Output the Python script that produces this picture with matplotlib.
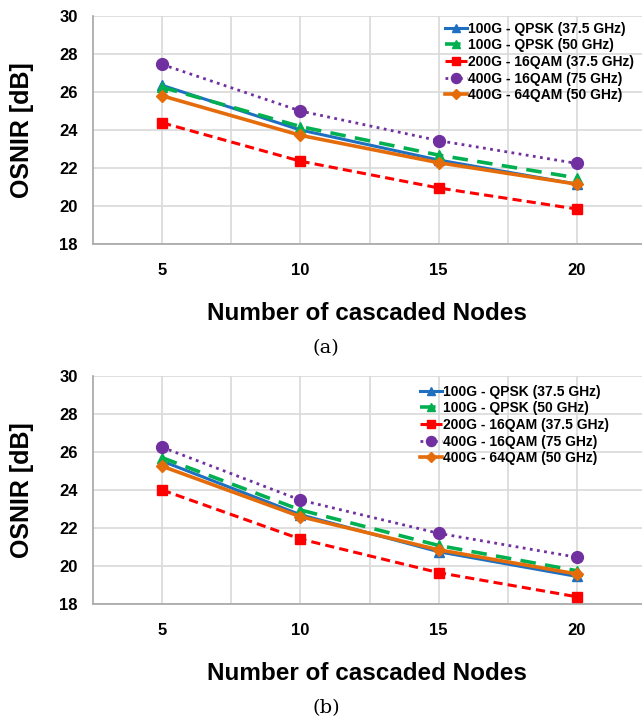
import matplotlib
matplotlib.use("Agg")
import matplotlib.pyplot as plt
from matplotlib.ticker import FixedLocator

plt.rcParams['font.family'] = ['Liberation Sans', 'DejaVu Sans']
plt.rcParams['font.weight'] = 'bold'

nodes = [5, 10, 15, 20]
labels = ["100G - QPSK (37.5 GHz)", "100G - QPSK (50 GHz)", "200G - 16QAM (37.5 GHz)",
          "400G - 16QAM (75 GHz)", "400G - 64QAM (50 GHz)"]

# panel (a)
a_qpsk375 = [26.35, 24.0, 22.42, 21.15]
a_qpsk50 = [26.25, 24.18, 22.68, 21.48]
a_16qam375 = [24.38, 22.36, 20.95, 19.84]
a_16qam75 = [27.45, 25.0, 23.44, 22.24]
a_64qam50 = [25.8, 23.72, 22.28, 21.15]

# panel (b)
b_qpsk375 = [25.52, 22.7, 20.75, 19.45]
b_qpsk50 = [25.7, 22.95, 21.08, 19.75]
b_16qam375 = [24.0, 21.42, 19.65, 18.38]
b_16qam75 = [26.25, 23.47, 21.72, 20.46]
b_64qam50 = [25.25, 22.6, 20.85, 19.58]

styles = [
    dict(color='#1F6FC0', lw=2.2, ls='-', marker='^', ms=7.5),
    dict(color='#00B050', lw=2.6, ls=(0, (4.3, 2.6)), marker='^', ms=7.5),
    dict(color='#FF0000', lw=2.2, ls=(0, (3.0, 1.7)), marker='s', ms=7.5),
    dict(color='#7030A0', lw=2.0, ls=(0, (1, 1.6)), marker='o', ms=8.5),
    dict(color='#E46C0A', lw=2.6, ls='-', marker='D', ms=6.5),
]

W, H = 642, 722
fig = plt.figure(figsize=(W / 100, H / 100), dpi=100)


def make_panel(top_px, series, leg_x, leg_y, caption):
    left, right = 93, 646
    height = 228
    width = right - left
    ax = fig.add_axes([left / W, (H - top_px - height) / H, width / W, height / H])
    for vals, st, lab in zip(series, styles, labels):
        ax.plot(nodes, vals, label=lab, color=st['color'], lw=st['lw'], ls=st['ls'],
                marker=st['marker'], ms=st['ms'], markeredgecolor=st['color'],
                markerfacecolor=st['color'], zorder=3)
    ax.set_xlim(2.5, 22.5)
    ax.set_ylim(18, 30)
    ax.xaxis.set_major_locator(FixedLocator(nodes))
    ax.xaxis.set_minor_locator(FixedLocator([7.5, 12.5, 17.5]))
    ax.set_yticks([18, 20, 22, 24, 26, 28, 30])
    ax.grid(True, which='both', color='#D9D9D9', lw=1.2, zorder=0)
    ax.set_axisbelow(True)
    ax.tick_params(axis='both', which='both', length=0)
    ax.tick_params(axis='x', pad=14, labelsize=12)
    ax.tick_params(axis='y', pad=11, labelsize=12)
    for t in ax.get_xticklabels() + ax.get_yticklabels():
        t.set_fontweight('bold')
    for s in ['top', 'right']:
        ax.spines[s].set_visible(False)
    for s in ['left', 'bottom']:
        ax.spines[s].set_color('#A6A6A6')
        ax.spines[s].set_linewidth(1.2)
    ax.set_xlabel('Number of cascaded Nodes', fontsize=17.5, fontweight='bold')
    ax.set_ylabel('OSNIR [dB]', fontsize=18, fontweight='bold')
    ax.xaxis.set_label_coords((367 - left) / width, -58 / height)
    ax.yaxis.set_label_coords(-(93 - 34) / width, 0.5)
    ax.legend(loc='upper left', bbox_to_anchor=(leg_x, leg_y), frameon=False,
              prop=dict(size=10, weight='bold'), handlelength=1.6, handletextpad=0.1,
              labelspacing=0.19, borderpad=0, borderaxespad=0, numpoints=1,
              markerscale=0.85)
    fig.text(326 / W, 1 - (348 + (top_px - 16)) / H, caption, ha='center', va='center',
             fontsize=14, family='DejaVu Serif', fontweight='normal')
    return ax


make_panel(16, [a_qpsk375, a_qpsk50, a_16qam375, a_16qam75, a_64qam50], 0.636, 0.975, '(a)')
make_panel(376, [b_qpsk375, b_qpsk50, b_16qam375, b_16qam75, b_64qam50], 0.591, 0.962, '(b)')

fig.savefig('out.png', dpi=100)
